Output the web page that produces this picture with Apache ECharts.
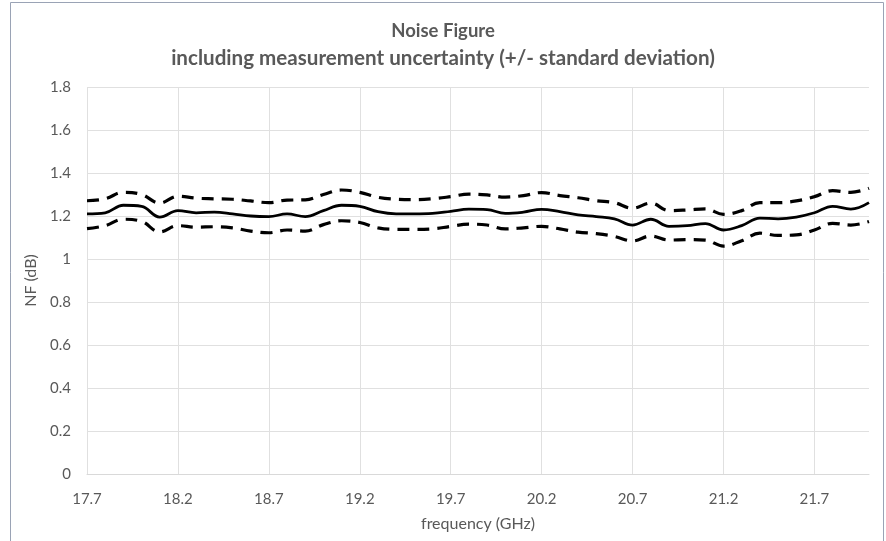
<!DOCTYPE html>
<html>
<head>
<meta charset="utf-8">
<script src="https://cdn.jsdelivr.net/npm/echarts@6/dist/echarts.min.js"></script>
<style>
  html, body { margin: 0; padding: 0; background: #fff; }
  #nf-chart { width: 886px; height: 541px; }
</style>
</head>
<body>
<div id="nf-chart"></div>
<script>
// frequency (GHz), step 0.1
var freqList = ['17.7','17.8','17.9','18.0','18.1','18.2','18.3','18.4','18.5','18.6',
    '18.7','18.8','18.9','19.0','19.1','19.2','19.3','19.4','19.5','19.6',
    '19.7','19.8','19.9','20.0','20.1','20.2','20.3','20.4','20.5','20.6',
    '20.7','20.8','20.9','21.0','21.1','21.2','21.3','21.4','21.5','21.6',
    '21.7','21.8','21.9','22.0'];

// NF mean (dB)
var nfMean = [1.21,1.215,1.25,1.245,1.195,1.225,1.215,1.218,1.21,1.20,
    1.197,1.21,1.197,1.225,1.25,1.245,1.22,1.21,1.21,1.212,
    1.222,1.232,1.23,1.212,1.218,1.231,1.22,1.205,1.197,1.187,
    1.158,1.185,1.152,1.155,1.165,1.135,1.155,1.19,1.187,1.195,
    1.215,1.245,1.232,1.262];

// mean + standard deviation
var nfUpper = [1.271,1.28,1.31,1.30,1.26,1.292,1.283,1.28,1.278,1.27,
    1.262,1.274,1.275,1.30,1.321,1.31,1.287,1.278,1.276,1.28,
    1.29,1.302,1.298,1.288,1.295,1.309,1.295,1.285,1.271,1.262,
    1.236,1.26,1.225,1.228,1.233,1.208,1.225,1.262,1.262,1.27,
    1.29,1.318,1.31,1.329];

// mean - standard deviation
var nfLower = [1.141,1.155,1.185,1.175,1.126,1.155,1.148,1.15,1.145,1.13,
    1.122,1.135,1.13,1.16,1.178,1.17,1.145,1.138,1.138,1.14,
    1.152,1.162,1.158,1.14,1.145,1.152,1.14,1.125,1.118,1.105,
    1.084,1.107,1.088,1.09,1.088,1.06,1.085,1.12,1.11,1.112,
    1.135,1.166,1.158,1.174];

var chartNf = echarts.init(document.getElementById('nf-chart'), null, {renderer: 'canvas'});
var txtColor = '#595959';
var dashStyle = {color: '#000', width: 3.2, type: [12, 8], cap: 'butt'};

var option = {
    animation: false,
    backgroundColor: '#fff',
    textStyle: {fontFamily: 'Lato'},
    // outer frame
    graphic: [{
        type: 'rect',
        shape: {x: 10.5, y: 2.5, width: 873, height: 580},
        style: {fill: 'none', stroke: '#9aa3b5', lineWidth: 1},
        silent: true
    }],
    title: {
        left: 'center',
        top: 13,
        text: '{a|Noise Figure}\n{b|including measurement uncertainty (+/- standard deviation)}',
        textStyle: {
            fontFamily: 'Lato',
            fontWeight: 'bold',
            color: txtColor,
            rich: {
                a: {fontFamily: 'Lato', fontWeight: 'bold', color: txtColor, fontSize: 18.5, lineHeight: 27},
                b: {fontFamily: 'Lato', fontWeight: 'bold', color: txtColor, fontSize: 20.6, lineHeight: 27}
            }
        }
    },
    grid: {
        left: 87,
        right: 17,
        top: 87,
        bottom: 67
    },
    xAxis: {
        type: 'category',
        data: freqList,
        boundaryGap: false,
        name: 'frequency (GHz)',
        nameLocation: 'middle',
        nameGap: 42,
        nameTextStyle: {color: txtColor, fontSize: 16},
        axisLine: {lineStyle: {color: '#d9d9d9', width: 1}},
        axisTick: {show: false},
        axisLabel: {interval: 4, color: txtColor, fontSize: 15, margin: 18},
        splitLine: {show: true, interval: 4, lineStyle: {color: '#e0e0e0', width: 1}}
    },
    yAxis: {
        type: 'value',
        min: 0,
        max: 1.8,
        interval: 0.2,
        name: 'NF (dB)',
        nameLocation: 'middle',
        nameGap: 41,
        nameTextStyle: {color: txtColor, fontSize: 16},
        axisLine: {show: false},
        axisTick: {show: false},
        axisLabel: {color: txtColor, fontSize: 15, margin: 16},
        splitLine: {lineStyle: {color: '#e0e0e0', width: 1}}
    },
    series: [
        {
            name: 'NF + std',
            type: 'line',
            data: nfUpper,
            smooth: 0.4,
            symbol: 'none',
            lineStyle: dashStyle
        },
        {
            name: 'NF',
            type: 'line',
            data: nfMean,
            smooth: 0.4,
            symbol: 'none',
            lineStyle: {color: '#000', width: 2.8}
        },
        {
            name: 'NF - std',
            type: 'line',
            data: nfLower,
            smooth: 0.4,
            symbol: 'none',
            lineStyle: dashStyle
        }
    ]
};
chartNf.setOption(option);
</script>
</body>
</html>
